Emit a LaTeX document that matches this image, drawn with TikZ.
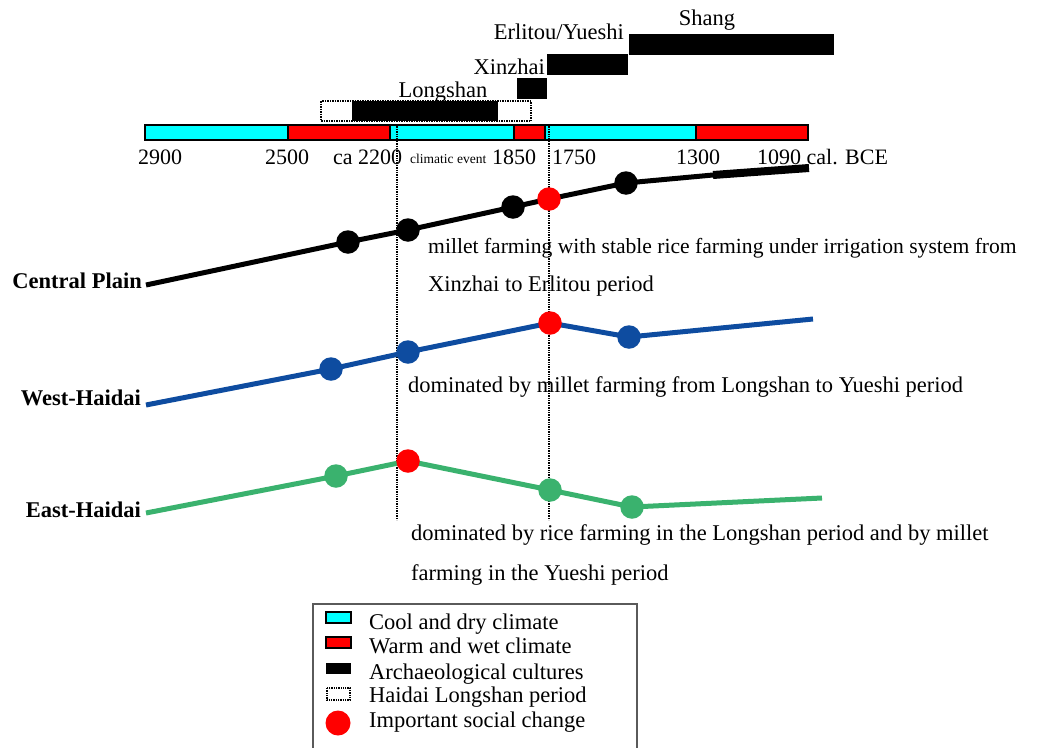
\documentclass[tikz,border=0pt]{standalone}
\usepackage{fontspec}
\setmainfont{Liberation Serif}
\definecolor{wblue}{RGB}{14,76,160}
\definecolor{egreen}{RGB}{58,178,110}
\definecolor{boxgray}{RGB}{90,90,90}
\definecolor{ccyan}{RGB}{0,255,255}
\definecolor{cred}{RGB}{255,0,0}
\begin{document}
\begin{tikzpicture}[x=1pt,y=-1pt,
  txt/.style={inner sep=0pt, font=\fontsize{22.5}{26}\selectfont},
  num/.style={inner sep=0pt, font=\fontsize{22}{26}\selectfont},
  small/.style={inner sep=0pt, font=\fontsize{13.5}{16}\selectfont},
  lbl/.style={inner sep=0pt, font=\bfseries\fontsize{22.5}{26}\selectfont},
  cool/.style={draw=black, line width=1.5pt, fill=ccyan},
  warm/.style={draw=black, line width=1.5pt, fill=cred},
  culture/.style={fill=black},
  haidai/.style={draw=black, densely dotted, line width=1.5pt},
  guide/.style={densely dotted, line width=1.4pt},
  dot/.style={circle, inner sep=0pt, minimum size=23.5pt},
  series/.style={line width=5pt}]
\useasboundingbox (0,0) rectangle (1049,747);

% archaeological cultures
\draw[haidai] (321,101) rectangle (531,121);
\fill[culture] (352,101) rectangle (498,121);
\fill[culture] (517,78) rectangle (547,99);
\fill[culture] (547,54) rectangle (628,75);
\fill[culture] (629,34) rectangle (834,55);
\node[txt, anchor=base] (lsh) at (443,97) {Longshan};
\node[txt, anchor=base east] (xzh) at (545,74) {Xinzhai};
\node[txt, anchor=base east] (erl) at (624,39) {Erlitou/Yueshi};
\node[txt, anchor=base] (shg) at (707,25) {Shang};

% climate bar
\draw[cool] (145,125) rectangle (288,140);
\draw[warm] (288,125) rectangle (390,140);
\draw[cool] (390,125) rectangle (514,140);
\draw[warm] (514,125) rectangle (545,140);
\draw[cool] (545,125) rectangle (696,140);
\draw[warm] (696,125) rectangle (808,140);

% climate labels
\node[num, anchor=base] (y2900) at (160,164) {2900};
\node[num, anchor=base] (y2500) at (287,164) {2500};
\node[num, anchor=base west] (y2200) at (333,164) {ca 2200};
\node[small, anchor=base west] (ev) at (410,163) {climatic event};
\node[num, anchor=base] (y1850) at (514,164) {1850};
\node[num, anchor=base] (y1750) at (574,164) {1750};
\node[num, anchor=base] (y1300) at (698,164) {1300};
\node[num, anchor=base west] (y1090) at (757,164) {1090 cal. BCE};

% guide lines
\coordinate (g1t) at (397,124);
\coordinate (g1b) at (397,520);
\coordinate (g2t) at (549,124);
\coordinate (g2b) at (549,520);
\draw[guide] (g1t) -- (g1b);
\draw[guide] (g2t) -- (g2b);

% Central Plain
\coordinate (c0) at (146,285);
\coordinate (c1) at (348,242);
\coordinate (c2) at (408,230);
\coordinate (c3) at (513,207);
\coordinate (c4) at (549,199);
\coordinate (c5) at (626,183);
\coordinate (c6) at (713,175);
\coordinate (c7) at (809,168);
\draw[series, black] (c0) -- (c1) -- (c2) -- (c3) -- (c4) -- (c5) -- (c6);
\draw[line width=8pt, black] (c6) -- (c7);
\foreach \p in {c1,c2,c3,c5} \node[dot, fill=black] at (\p) {};
\node[dot, fill=cred] at (c4) {};
\node[lbl, anchor=base east] (cpl) at (142,288) {Central Plain};

% West-Haidai
\coordinate (w0) at (146,405);
\coordinate (w1) at (331,369);
\coordinate (w2) at (408,352);
\coordinate (w3) at (550,323);
\coordinate (w4) at (629,337);
\coordinate (w5) at (813,319);
\draw[series, wblue] (w0) -- (w1) -- (w2) -- (w3) -- (w4) -- (w5);
\foreach \p in {w1,w2,w4} \node[dot, fill=wblue] at (\p) {};
\node[dot, fill=cred] at (w3) {};
\node[lbl, anchor=base east] (whd) at (141,405) {West-Haidai};

% East-Haidai
\coordinate (e0) at (146,513);
\coordinate (e1) at (336,476);
\coordinate (e2) at (408,461);
\coordinate (e3) at (550,490);
\coordinate (e4) at (632,507);
\coordinate (e5) at (822,498);
\draw[series, egreen] (e0) -- (e1) -- (e2) -- (e3) -- (e4) -- (e5);
\foreach \p in {e1,e3,e4} \node[dot, fill=egreen] at (\p) {};
\node[dot, fill=cred] at (e2) {};
\node[lbl, anchor=base east] (ehd) at (141,517) {East-Haidai};

% descriptions
\node[txt, font=\fontsize{21.6}{26}\selectfont, anchor=base west] (d1) at (428,253) {millet farming with stable rice farming under irrigation system from};
\node[txt, anchor=base west] (d2) at (428,291) {Xinzhai to Erlitou period};
\node[txt, anchor=base west] (d3) at (408,392) {dominated by millet farming from Longshan to Yueshi period};
\node[txt, anchor=base west] (d4) at (411,540) {dominated by rice farming in the Longshan period and by millet};
\node[txt, anchor=base west] (d5) at (411,580) {farming in the Yueshi period};

% legend
\draw[boxgray, line width=1.5pt] (313,750) -- (313,604) -- (637,604) -- (637,750);
\draw[cool] (326,612) rectangle (351,623);
\draw[warm] (326,637) rectangle (351,648);
\fill[culture] (326,663) rectangle (351,674);
\draw[haidai, line width=1.3pt] (327,688) rectangle (350,700);
\node[dot, fill=cred, minimum size=25pt] (lgd) at (338,723) {};
\node[txt, anchor=base west] (l1) at (369,629) {Cool and dry climate};
\node[txt, anchor=base west] (l2) at (369,653) {Warm and wet climate};
\node[txt, anchor=base west] (l3) at (369,679) {Archaeological cultures};
\node[txt, anchor=base west] (l4) at (369,702) {Haidai Longshan period};
\node[txt, anchor=base west] (l5) at (369,727) {Important social change};
\end{tikzpicture}
\end{document}
